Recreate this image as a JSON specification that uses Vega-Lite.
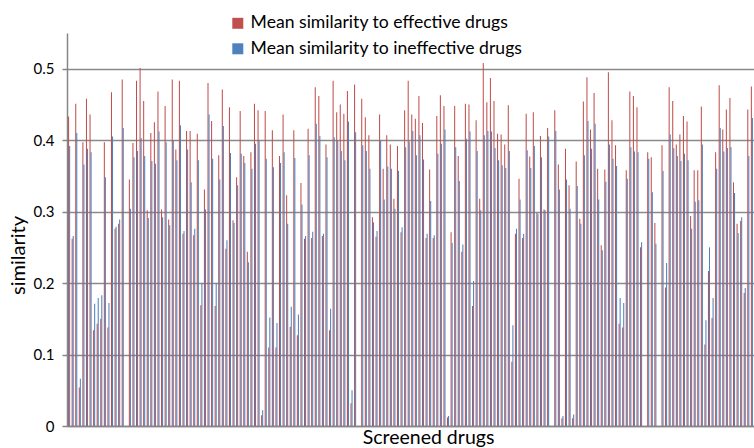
{
  "$schema": "https://vega.github.io/schema/vega-lite/v6.json",
  "width": 687,
  "height": 393,
  "autosize": "none",
  "padding": {"left": 67, "top": 33, "right": 0, "bottom": 22},
  "background": "white",
  "config": {"font": "Lato", "view": {"stroke": null}},
  "data": {"values": [
    {"d":1,"eff":0.433,"ineff":0.392},{"d":2,"eff":0.262,"ineff":0.266},{"d":3,"eff":0.451,"ineff":0.410},{"d":4,"eff":0.054,"ineff":0.066},
    {"d":5,"eff":0.397,"ineff":0.366},{"d":6,"eff":0.458,"ineff":0.388},{"d":7,"eff":0.436,"ineff":0.383},{"d":8,"eff":0.134,"ineff":0.171},
    {"d":9,"eff":0.143,"ineff":0.179},{"d":10,"eff":0.150,"ineff":0.183},{"d":11,"eff":0.397,"ineff":0.348},{"d":12,"eff":0.138,"ineff":0.172},
    {"d":13,"eff":0.467,"ineff":0.405},{"d":14,"eff":0.276,"ineff":0.279},{"d":15,"eff":0.283,"ineff":0.289},{"d":16,"eff":0.485,"ineff":0.417},
    {"d":17,"eff":0,"ineff":0},{"d":18,"eff":0.345,"ineff":0.304},{"d":19,"eff":0.396,"ineff":0.376},{"d":20,"eff":0.483,"ineff":0.385},
    {"d":21,"eff":0.501,"ineff":0.403},{"d":22,"eff":0.455,"ineff":0.378},{"d":23,"eff":0.302,"ineff":0.291},{"d":24,"eff":0.410,"ineff":0.371},
    {"d":25,"eff":0.425,"ineff":0.367},{"d":26,"eff":0.468,"ineff":0.412},{"d":27,"eff":0.303,"ineff":0.292},{"d":28,"eff":0.448,"ineff":0.397},
    {"d":29,"eff":0.289,"ineff":0.281},{"d":30,"eff":0.485,"ineff":0.400},{"d":31,"eff":0.387,"ineff":0.372},{"d":32,"eff":0.483,"ineff":0.421},
    {"d":33,"eff":0.269,"ineff":0.273},{"d":34,"eff":0.413,"ineff":0.387},{"d":35,"eff":0.413,"ineff":0.341},{"d":36,"eff":0.267,"ineff":0.276},
    {"d":37,"eff":0.409,"ineff":0.372},{"d":38,"eff":0.169,"ineff":0.200},{"d":39,"eff":0.331,"ineff":0.303},{"d":40,"eff":0.480,"ineff":0.436},
    {"d":41,"eff":0.427,"ineff":0.374},{"d":42,"eff":0.168,"ineff":0.200},{"d":43,"eff":0.379,"ineff":0.345},{"d":44,"eff":0.471,"ineff":0.420},
    {"d":45,"eff":0.248,"ineff":0.260},{"d":46,"eff":0.446,"ineff":0.382},{"d":47,"eff":0.288,"ineff":0.284},{"d":48,"eff":0.348,"ineff":0.337},
    {"d":49,"eff":0.441,"ineff":0.381},{"d":50,"eff":0.378,"ineff":0.368},{"d":51,"eff":0.244,"ineff":0.229},{"d":52,"eff":0.383,"ineff":0.360},
    {"d":53,"eff":0.451,"ineff":0.395},{"d":54,"eff":0.442,"ineff":0.400},{"d":55,"eff":0.015,"ineff":0.022},{"d":56,"eff":0.441,"ineff":0.374},
    {"d":57,"eff":0.110,"ineff":0.152},{"d":58,"eff":0.414,"ineff":0.362},{"d":59,"eff":0.110,"ineff":0.144},{"d":60,"eff":0.378,"ineff":0.368},
    {"d":61,"eff":0.436,"ineff":0.383},{"d":62,"eff":0.323,"ineff":0.283},{"d":63,"eff":0.139,"ineff":0.167},{"d":64,"eff":0.414,"ineff":0.375},
    {"d":65,"eff":0.127,"ineff":0.156},{"d":66,"eff":0.340,"ineff":0.310},{"d":67,"eff":0.262,"ineff":0.266},{"d":68,"eff":0.416,"ineff":0.379},
    {"d":69,"eff":0.263,"ineff":0.272},{"d":70,"eff":0.474,"ineff":0.423},{"d":71,"eff":0.462,"ineff":0.406},{"d":72,"eff":0.266,"ineff":0.269},
    {"d":73,"eff":0.394,"ineff":0.376},{"d":74,"eff":0.134,"ineff":0.164},{"d":75,"eff":0.483,"ineff":0.404},{"d":76,"eff":0.439,"ineff":0.400},
    {"d":77,"eff":0.450,"ineff":0.385},{"d":78,"eff":0.437,"ineff":0.372},{"d":79,"eff":0.469,"ineff":0.426},{"d":80,"eff":0.032,"ineff":0.050},
    {"d":81,"eff":0.478,"ineff":0.411},{"d":82,"eff":0,"ineff":0},{"d":83,"eff":0.458,"ineff":0.393},{"d":84,"eff":0.432,"ineff":0.385},
    {"d":85,"eff":0.407,"ineff":0.360},{"d":86,"eff":0.292,"ineff":0.285},{"d":87,"eff":0.265,"ineff":0.273},{"d":88,"eff":0.436,"ineff":0.400},
    {"d":89,"eff":0.360,"ineff":0.317},{"d":90,"eff":0.407,"ineff":0.363},{"d":91,"eff":0.394,"ineff":0.360},{"d":92,"eff":0.318,"ineff":0.304},
    {"d":93,"eff":0.392,"ineff":0.357},{"d":94,"eff":0.271,"ineff":0.278},{"d":95,"eff":0.442,"ineff":0.390},{"d":96,"eff":0.483,"ineff":0.398},
    {"d":97,"eff":0.436,"ineff":0.413},{"d":98,"eff":0.430,"ineff":0.379},{"d":99,"eff":0.462,"ineff":0.407},{"d":100,"eff":0.424,"ineff":0.373},
    {"d":101,"eff":0.263,"ineff":0.269},{"d":102,"eff":0.359,"ineff":0.315},{"d":103,"eff":0.263,"ineff":0.267},{"d":104,"eff":0.434,"ineff":0.381},
    {"d":105,"eff":0.463,"ineff":0.395},{"d":106,"eff":0.448,"ineff":0.415},{"d":107,"eff":0.012,"ineff":0.014},{"d":108,"eff":0.271,"ineff":0.256},
    {"d":109,"eff":0.448,"ineff":0.390},{"d":110,"eff":0.378,"ineff":0.343},{"d":111,"eff":0.244,"ineff":0.254},{"d":112,"eff":0.451,"ineff":0.402},
    {"d":113,"eff":0.450,"ineff":0.412},{"d":114,"eff":0.168,"ineff":0.203},{"d":115,"eff":0.428,"ineff":0.385},{"d":116,"eff":0.318,"ineff":0.302},
    {"d":117,"eff":0.508,"ineff":0.407},{"d":118,"eff":0.453,"ineff":0.413},{"d":119,"eff":0.487,"ineff":0.412},{"d":120,"eff":0.455,"ineff":0.389},
    {"d":121,"eff":0.409,"ineff":0.372},{"d":122,"eff":0.408,"ineff":0.365},{"d":123,"eff":0.394,"ineff":0.361},{"d":124,"eff":0.449,"ineff":0.385},
    {"d":125,"eff":0.090,"ineff":0.141},{"d":126,"eff":0.269,"ineff":0.276},{"d":127,"eff":0.346,"ineff":0.317},{"d":128,"eff":0.263,"ineff":0.269},
    {"d":129,"eff":0.437,"ineff":0.386},{"d":130,"eff":0.377,"ineff":0.361},{"d":131,"eff":0.439,"ineff":0.392},{"d":132,"eff":0.298,"ineff":0.297},
    {"d":133,"eff":0.406,"ineff":0.376},{"d":134,"eff":0.303,"ineff":0.302},{"d":135,"eff":0.417,"ineff":0.405},{"d":136,"eff":0,"ineff":0},
    {"d":137,"eff":0.442,"ineff":0.413},{"d":138,"eff":0.366,"ineff":0.331},{"d":139,"eff":0.011,"ineff":0.014},{"d":140,"eff":0.388,"ineff":0.345},
    {"d":141,"eff":0.337,"ineff":0.304},{"d":142,"eff":0.011,"ineff":0.016},{"d":143,"eff":0.370,"ineff":0.336},{"d":144,"eff":0.290,"ineff":0.283},
    {"d":145,"eff":0.454,"ineff":0.379},{"d":146,"eff":0.488,"ineff":0.427},{"d":147,"eff":0.415,"ineff":0.388},{"d":148,"eff":0.466,"ineff":0.423},
    {"d":149,"eff":0.360,"ineff":0.317},{"d":150,"eff":0.253,"ineff":0.246},{"d":151,"eff":0.359,"ineff":0.342},{"d":152,"eff":0.495,"ineff":0.394},
    {"d":153,"eff":0.428,"ineff":0.374},{"d":154,"eff":0.393,"ineff":0.364},{"d":155,"eff":0.143,"ineff":0.179},{"d":156,"eff":0.138,"ineff":0.172},
    {"d":157,"eff":0.358,"ineff":0.346},{"d":158,"eff":0.468,"ineff":0.390},{"d":159,"eff":0.462,"ineff":0.384},{"d":160,"eff":0.446,"ineff":0.383},
    {"d":161,"eff":0.250,"ineff":0.257},{"d":162,"eff":0,"ineff":0},{"d":163,"eff":0.383,"ineff":0.374},{"d":164,"eff":0.376,"ineff":0.327},
    {"d":165,"eff":0.284,"ineff":0.255},{"d":166,"eff":0,"ineff":0},{"d":167,"eff":0.393,"ineff":0.357},{"d":168,"eff":0.194,"ineff":0.228},
    {"d":169,"eff":0.474,"ineff":0.408},{"d":170,"eff":0.455,"ineff":0.389},{"d":171,"eff":0.394,"ineff":0.378},{"d":172,"eff":0.408,"ineff":0.371},
    {"d":173,"eff":0.434,"ineff":0.381},{"d":174,"eff":0.426,"ineff":0.372},{"d":175,"eff":0.294,"ineff":0.276},{"d":176,"eff":0.358,"ineff":0.314},
    {"d":177,"eff":0.358,"ineff":0.316},{"d":178,"eff":0.447,"ineff":0.394},{"d":179,"eff":0.114,"ineff":0.148},{"d":180,"eff":0.217,"ineff":0.250},
    {"d":181,"eff":0.151,"ineff":0.179},{"d":182,"eff":0.383,"ineff":0.360},{"d":183,"eff":0.477,"ineff":0.417},{"d":184,"eff":0.415,"ineff":0.384},
    {"d":185,"eff":0.443,"ineff":0.389},{"d":186,"eff":0.459,"ineff":0.390},{"d":187,"eff":0.341,"ineff":0.326},{"d":188,"eff":0.283,"ineff":0.270},
    {"d":189,"eff":0.287,"ineff":0.292},{"d":190,"eff":0.186,"ineff":0.193},{"d":191,"eff":0.443,"ineff":0.378},{"d":192,"eff":0.475,"ineff":0.431}
  ]},
  "transform": [{"fold": ["eff", "ineff"], "as": ["series", "value"]}],
  "mark": {"type": "bar"},
  "encoding": {
    "x": {
      "field": "d", "type": "ordinal",
      "scale": {"paddingInner": 0.42, "paddingOuter": 0.3},
      "axis": {
        "title": "Screened drugs", "labels": false, "ticks": false,
        "domainColor": "#868686", "domainWidth": 1.5,
        "titleFontSize": 19.5, "titleFontWeight": "normal", "titleColor": "#000000", "titlePadding": 2,
        "titleX": 361, "titleAlign": "center"
      }
    },
    "xOffset": {"field": "series", "type": "nominal", "scale": {"domain": ["eff", "ineff"]}},
    "y": {
      "field": "value", "type": "quantitative",
      "scale": {"domain": [0, 0.55], "nice": false},
      "axis": {
        "title": "similarity", "values": [0, 0.1, 0.2, 0.3, 0.4, 0.5], "format": "~g",
        "titleFontSize": 20, "titleFontWeight": "normal", "titleColor": "#000000", "titlePadding": 5,
        "titleY": 222, "titleAlign": "center",
        "labelFontSize": 15, "labelColor": "#000000", "labelPadding": 8,
        "tickSize": 5, "tickColor": "#868686", "tickWidth": 1.5,
        "domainColor": "#868686", "domainWidth": 1.5,
        "gridColor": "#8a8a8a", "gridWidth": 1.5
      }
    },
    "color": {
      "field": "series", "type": "nominal",
      "scale": {"domain": ["eff", "ineff"], "range": ["#C0504D", "#4F81BD"]},
      "legend": {
        "title": null, "orient": "none", "legendX": 162, "legendY": -18.5,
        "labelExpr": "datum.label == 'eff' ? 'Mean similarity to effective drugs' : 'Mean similarity to ineffective drugs'",
        "symbolType": "square", "symbolSize": 121, "symbolStrokeWidth": 0, "symbolOpacity": 1,
        "labelFontSize": 17.6, "labelColor": "#000000", "labelOffset": 4, "rowPadding": 6.5, "labelLimit": 400
      }
    }
  }
}
